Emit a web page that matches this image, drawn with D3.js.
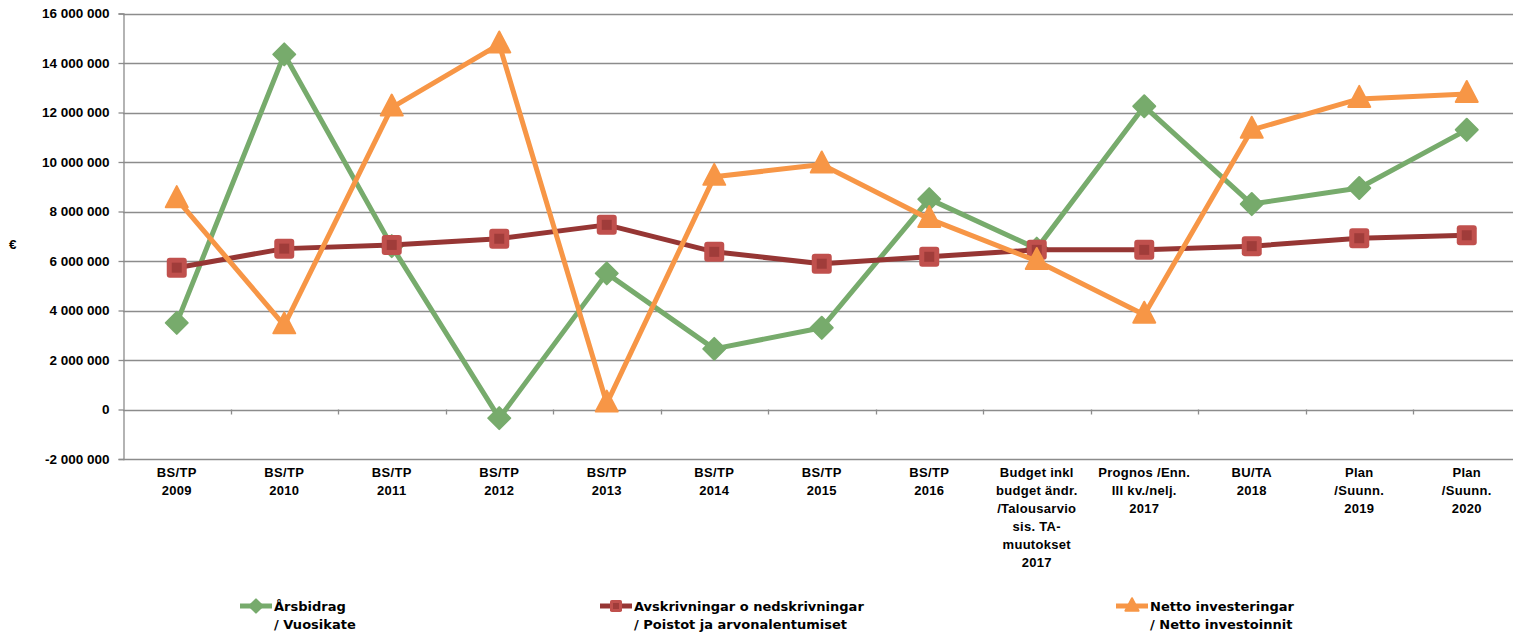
<!DOCTYPE html>
<html>
<head>
<meta charset="utf-8">
<script src="https://cdn.jsdelivr.net/npm/d3@7"></script>
<style>
  body { margin: 0; background: #fff; }
  svg { display: block; }
  .ylab { font-family: "Liberation Sans", Arial, sans-serif; font-weight: bold; font-size: 13.5px; fill: #000; }
  .xlab { font-family: "Liberation Sans", Arial, sans-serif; font-weight: bold; font-size: 13px; fill: #000; letter-spacing: 0.3px; }
  .leg { font-family: "DejaVu Sans", Verdana, sans-serif; font-weight: bold; font-size: 13px; fill: #000; }
</style>
</head>
<body>
<svg width="1516" height="635"></svg>
<script>
'use strict'

var categories = [
  ["BS/TP", "2009"],
  ["BS/TP", "2010"],
  ["BS/TP", "2011"],
  ["BS/TP", "2012"],
  ["BS/TP", "2013"],
  ["BS/TP", "2014"],
  ["BS/TP", "2015"],
  ["BS/TP", "2016"],
  ["Budget inkl", "budget ändr.", "/Talousarvio", "sis. TA-", "muutokset", "2017"],
  ["Prognos /Enn.", "III kv./nelj.", "2017"],
  ["BU/TA", "2018"],
  ["Plan", "/Suunn.", "2019"],
  ["Plan", "/Suunn.", "2020"]
];

var arsbidrag = [3500000, 14350000, 6600000, -350000, 5500000, 2450000, 3300000, 8500000, 6500000, 12250000, 8300000, 8950000, 11300000];
var avskrivningar = [5730000, 6500000, 6650000, 6900000, 7460000, 6370000, 5890000, 6170000, 6450000, 6450000, 6600000, 6920000, 7040000];
var investeringar = [8500000, 3400000, 12200000, 14750000, 240000, 9400000, 9900000, 7700000, 6000000, 3830000, 11300000, 12550000, 12750000];

var yTicks = [-2000000, 0, 2000000, 4000000, 6000000, 8000000, 10000000, 12000000, 14000000, 16000000];

var series = [
  { name: ["Årsbidrag", "/ Vuosikate"], values: arsbidrag, line: "#77ab6c", fill: "#77ab6c", marker: "diamond" },
  { name: ["Avskrivningar o nedskrivningar", "/ Poistot ja arvonalentumiset"], values: avskrivningar, line: "#963634", fill: "#c0504d", marker: "square" },
  { name: ["Netto investeringar", "/ Netto investoinnit"], values: investeringar, line: "#f79646", fill: "#f79646", marker: "triangle" }
];

var svg = d3.select("svg");
var plot = { left: 123, right: 1520.5, top: 13.5, bottom: 459 };

var x = d3.scaleBand()
  .domain(d3.range(categories.length))
  .range([plot.left, plot.right]);

var y = d3.scaleLinear()
  .domain([-2000000, 16000000])
  .range([plot.bottom, plot.top]);

var locale = d3.formatLocale({ decimal: ",", thousands: " ", grouping: [3], currency: ["", "€"], minus: "-" });
var fmt = locale.format(",d");

// gridlines
svg.append("g")
  .selectAll("line")
  .data(yTicks)
  .enter()
  .append("line")
  .attr("x1", plot.left)
  .attr("x2", 1513)
  .attr("y1", function(d) { return Math.round(y(d)) + 0.5; })
  .attr("y2", function(d) { return Math.round(y(d)) + 0.5; })
  .attr("stroke", "#8c8c8c")
  .attr("stroke-width", 1.3);

// y axis
var yAxis = d3.axisLeft(y).tickValues(yTicks).tickFormat(fmt).tickSize(5).tickPadding(9);
var gy = svg.append("g")
  .attr("transform", "translate(" + (plot.left + 0.5) + ",0)")
  .call(yAxis);
gy.select(".domain").attr("stroke", "#8c8c8c").attr("stroke-width", 1.3);
gy.selectAll(".tick line").attr("stroke", "#8c8c8c").attr("stroke-width", 1.3);
gy.selectAll(".tick text").attr("class", "ylab").attr("font-family", null).attr("font-size", null);

svg.append("text")
  .attr("class", "ylab")
  .attr("x", 9)
  .attr("y", 249)
  .text("€");

// category ticks on zero line
svg.append("g")
  .selectAll("line")
  .data(d3.range(1, categories.length))
  .enter()
  .append("line")
  .attr("x1", function(d) { return Math.round(x(d)) + 0.5; })
  .attr("x2", function(d) { return Math.round(x(d)) + 0.5; })
  .attr("y1", y(0))
  .attr("y2", y(0) + 5)
  .attr("stroke", "#8c8c8c")
  .attr("stroke-width", 1.3);

// category labels
var xl = svg.append("g");
categories.forEach(function(lines, i) {
  var t = xl.append("text")
    .attr("class", "xlab")
    .attr("text-anchor", "middle")
    .attr("x", x(i) + x.bandwidth() / 2)
    .attr("y", 477);
  lines.forEach(function(s, j) {
    t.append("tspan")
      .attr("x", x(i) + x.bandwidth() / 2)
      .attr("dy", j === 0 ? 0 : 18)
      .text(s);
  });
});

var cx = function(d, i) { return x(i) + x.bandwidth() / 2; };

function drawMarker(g, s, px, py, scale) {
  var k = scale || 1;
  if (s.marker === "diamond") {
    g.append("path")
      .attr("d", "M" + px + "," + (py - 11 * k) + "L" + (px + 11 * k) + "," + py + "L" + px + "," + (py + 11 * k) + "L" + (px - 11 * k) + "," + py + "Z")
      .attr("fill", s.fill)
      .attr("stroke", s.fill)
      .attr("stroke-width", 2)
      .attr("stroke-linejoin", "round");
  } else if (s.marker === "square") {
    g.append("rect")
      .attr("x", px - 10 * k).attr("y", py - 10 * k)
      .attr("width", 20 * k).attr("height", 20 * k)
      .attr("rx", 3 * k)
      .attr("fill", s.fill);
    g.append("rect")
      .attr("x", px - 5 * k).attr("y", py - 5 * k)
      .attr("width", 10 * k).attr("height", 10 * k)
      .attr("fill", s.line)
      .attr("opacity", 0.75);
  } else {
    g.append("path")
      .attr("d", "M" + px + "," + (py - 13 * k) + "L" + (px + 11 * k) + "," + (py + 8 * k) + "L" + (px - 11 * k) + "," + (py + 8 * k) + "Z")
      .attr("fill", s.fill)
      .attr("stroke", s.fill)
      .attr("stroke-width", 2)
      .attr("stroke-linejoin", "round");
  }
}

var line = d3.line()
  .x(cx)
  .y(function(d) { return y(d); });

series.forEach(function(s) {
  var g = svg.append("g");
  g.append("path")
    .datum(s.values)
    .attr("d", line)
    .attr("fill", "none")
    .attr("stroke", s.line)
    .attr("stroke-width", 5)
    .attr("stroke-linejoin", "round");
  s.values.forEach(function(v, i) {
    drawMarker(g, s, cx(v, i), y(v));
  });
});

// legend
var legendX = [240, 600, 1116];
series.forEach(function(s, i) {
  var g = svg.append("g");
  var lx = legendX[i], ly = 606;
  g.append("line")
    .attr("x1", lx).attr("x2", lx + 32)
    .attr("y1", ly).attr("y2", ly)
    .attr("stroke", s.line)
    .attr("stroke-width", 5);
  drawMarker(g, s, lx + 16, ly, 0.6);
  var t = g.append("text")
    .attr("class", "leg")
    .attr("x", lx + 34)
    .attr("y", ly + 5);
  s.name.forEach(function(n, j) {
    t.append("tspan").attr("x", lx + 34).attr("dy", j === 0 ? 0 : 18).text(n);
  });
});
</script>
</body>
</html>
